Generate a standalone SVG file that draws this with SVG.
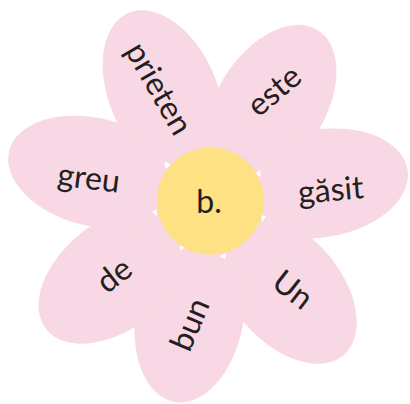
<svg xmlns="http://www.w3.org/2000/svg" width="410" height="404" viewBox="0 0 410 404">
<style>
.petal{fill:#F9D8E5}
.word{font-family:Lato,"Liberation Sans",sans-serif;font-size:32px;fill:#231F20;text-anchor:middle}
.gap{fill:#FFFFFF}
</style>
<rect width="410" height="404" fill="#FFFFFF"/>
<g id="flower">
<circle class="petal" cx="210" cy="201" r="105"/>
<g id="petal-prieten"><ellipse class="petal" cx="0" cy="-117" rx="54" ry="88" transform="translate(210 201) rotate(-23.5)"/><text class="word" transform="translate(156.5 90) rotate(60)" y="8">prieten</text></g>
<g id="petal-este"><ellipse class="petal" cx="0" cy="-114" rx="54" ry="88" transform="translate(210 201) rotate(32.3)"/><text class="word" transform="translate(276 93) rotate(-40)" y="8">este</text></g>
<g id="petal-gasit"><ellipse class="petal" cx="0" cy="-112" rx="54" ry="88" transform="translate(210 201) rotate(81)"/><text class="word" transform="translate(331 193) rotate(-5)" y="8">găsit</text></g>
<g id="petal-un"><ellipse class="petal" cx="0" cy="-116" rx="54" ry="88" transform="translate(210 201) rotate(139)"/><text class="word" transform="translate(291 292) rotate(38)" y="8">Un</text></g>
<g id="petal-bun"><ellipse class="petal" cx="0" cy="-116" rx="54" ry="88" transform="translate(210 201) rotate(190)"/><text class="word" transform="translate(192.5 325.5) rotate(-67)" y="8">bun</text></g>
<g id="petal-de"><ellipse class="petal" cx="0" cy="-120" rx="54" ry="88" transform="translate(210 201) rotate(232)"/><text class="word" transform="translate(115.8 277.5) rotate(-38)" y="8">de</text></g>
<g id="petal-greu"><ellipse class="petal" cx="0" cy="-119" rx="54" ry="88" transform="translate(210 201) rotate(284)"/><text class="word" transform="translate(88.5 181) rotate(7)" y="8">greu</text></g>
</g>
<g id="center">
<g class="gap">
<polygon points="164,162 171,164 166,169"/>
<polygon points="260,170 261,177 255,174"/>
<polygon points="152,212 157,209 157,216"/>
<polygon points="266,216 262,222 261,215"/>
<polygon points="180,245 185,248 180,250"/>
<polygon points="219,256 226,253 225,259"/>
</g>
<circle cx="210.5" cy="201" r="53.5" fill="#FEE182"/>
<text class="word" x="209" y="213">b.</text>
</g>
</svg>
